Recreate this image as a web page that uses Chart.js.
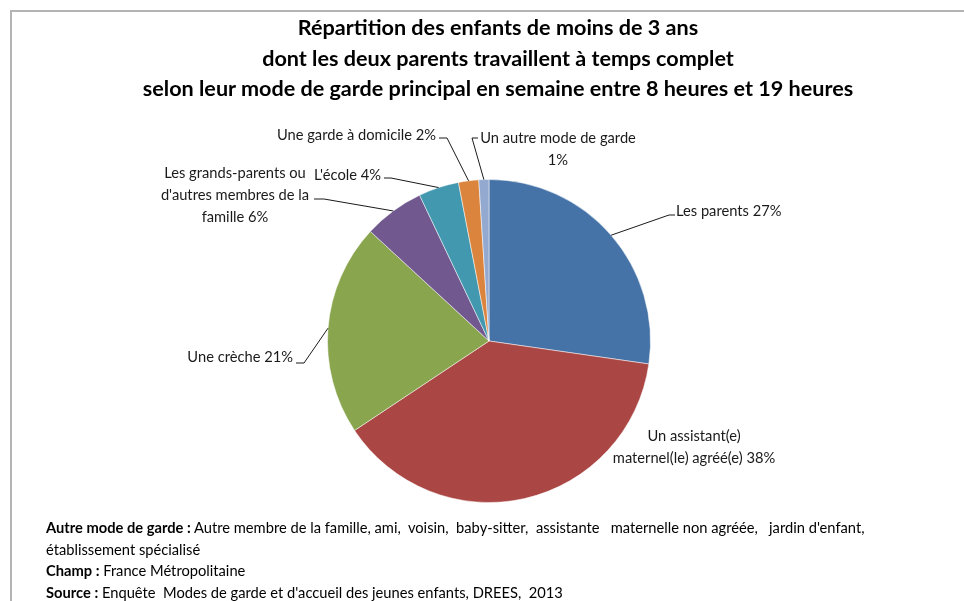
<!DOCTYPE html>
<html lang="fr">
<head>
<meta charset="utf-8">
<script src="https://cdn.jsdelivr.net/npm/chart.js@4.4.1/dist/chart.umd.min.js"></script>
<style>
  html, body { margin: 0; padding: 0; background: #fff; }
  #wrap { position: relative; width: 964px; height: 601px; overflow: hidden; font-family: Lato, "Open Sans", sans-serif; }
  #frame { position: absolute; left: 10px; top: 10px; width: 980px; height: 620px;
           border-top: 2px solid #b4b4b4; border-left: 2px solid #b4b4b4; }
  #chart { position: absolute; left: 0; top: 0; }
  #title { position: absolute; left: 0; top: 12px; width: 996px; text-align: center;
           font-weight: bold; font-size: 21.6px; line-height: 30.5px; color: #000; }
  #notes { position: absolute; left: 46px; top: 517px; font-size: 14.7px; line-height: 21.5px; color: #000; white-space: nowrap; }
</style>
</head>
<body>
<div id="wrap">
  <div id="frame"></div>
  <canvas id="chart" width="964" height="601"></canvas>
  <div id="title">Répartition des enfants de moins de 3 ans<br>dont les deux parents travaillent à temps complet<br>selon leur mode de garde principal en semaine entre 8 heures et 19 heures</div>
  <div id="notes">
    <b>Autre mode de garde :</b> Autre membre de la famille, ami,&nbsp; voisin,&nbsp; baby-sitter,&nbsp; assistante&nbsp;&nbsp; maternelle non agréée,&nbsp;&nbsp; jardin d'enfant,<br>
    établissement spécialisé<br>
    <b>Champ :</b> France Métropolitaine<br>
    <b>Source :</b> Enquête&nbsp; Modes de garde et d'accueil des jeunes enfants, DREES,&nbsp; 2013
  </div>
</div>
<script>
var ctx = document.getElementById('chart').getContext('2d');

/* Mode de garde principal */
const modes = ['Les parents', 'Un assistant(e) maternel(le) agréé(e)', 'Une crèche',
  "Les grands-parents ou d'autres membres de la famille", "L'école",
  'Une garde à domicile', 'Un autre mode de garde'];
const parts = [27, 38, 21, 6, 4, 2, 1];
const couleurs = ['#4572A7', '#AA4643', '#89A54E', '#71588F', '#4198AF', '#DB843D', '#93A9CF'];

// placement des étiquettes (décalages par rapport au centre du camembert)
const placement = [
  { align: 'left',   dx: 187,  dy: -130, breaks: [],    elbow: [180, -126], end: [186, -126] },
  { align: 'center', dx: 205,  dy: 95,   breaks: [2] },
  { align: 'right',  dx: -196, dy: 16,   breaks: [],    elbow: [-185, 22],  end: [-193, 22] },
  { align: 'center', dx: -254, dy: -168, breaks: [3, 7], elbow: [-165, -142], end: [-175, -142] },
  { align: 'right',  dx: -108, dy: -166, breaks: [],    elbow: [-98, -163], end: [-105, -163] },
  { align: 'right',  dx: -53,  dy: -206, breaks: [],    elbow: [-42, -203], end: [-50, -203] },
  { align: 'center', dx: 69,   dy: -203, breaks: [5],   elbow: [-17, -203], end: [-11, -203] }
];

const etiquettes = {
  id: 'etiquettes',
  afterDraw(chart) {
    const c = chart.ctx;
    const meta = chart.getDatasetMeta(0);
    c.save();
    c.font = '14.7px Lato, "Open Sans", sans-serif';
    c.fillStyle = '#1a1a1a';
    c.strokeStyle = '#1a1a1a';
    c.lineWidth = 1;
    c.textBaseline = 'middle';
    meta.data.forEach(function (arc, i) {
      const p = arc.getProps(['x', 'y', 'startAngle', 'endAngle', 'outerRadius'], true);
      const s = placement[i];
      const words = (modes[i] + ' ' + parts[i] + '%').split(' ');
      const lines = [];
      let cur = [];
      words.forEach(function (w, k) {
        cur.push(w);
        if (s.breaks.indexOf(k + 1) >= 0) { lines.push(cur.join(' ')); cur = []; }
      });
      if (cur.length) lines.push(cur.join(' '));
      c.textAlign = s.align;
      lines.forEach(function (l, k) {
        c.fillText(l, p.x + s.dx, p.y + s.dy + k * 22);
      });
      if (s.elbow) {
        const mid = (p.startAngle + p.endAngle) / 2;
        const ax = p.x + Math.cos(mid) * p.outerRadius;
        const ay = p.y + Math.sin(mid) * p.outerRadius;
        c.beginPath();
        c.moveTo(ax, ay);
        c.lineTo(p.x + s.elbow[0], p.y + s.elbow[1]);
        c.lineTo(p.x + s.end[0], p.y + s.end[1]);
        c.stroke();
      }
    });
    c.restore();
  }
};

var myChart = new Chart(ctx, {
  type: 'pie',
  data: {
    labels: modes,
    datasets: [{
      data: parts,
      backgroundColor: couleurs,
      borderColor: 'rgba(255,255,255,0.5)',
      borderWidth: 1
    }]
  },
  options: {
    responsive: false,
    animation: false,
    layout: { padding: { top: 179, bottom: 98, left: 150, right: 136 } },
    plugins: {
      legend: { display: false },
      tooltip: { enabled: false }
    }
  },
  plugins: [etiquettes]
});
</script>
</body>
</html>
